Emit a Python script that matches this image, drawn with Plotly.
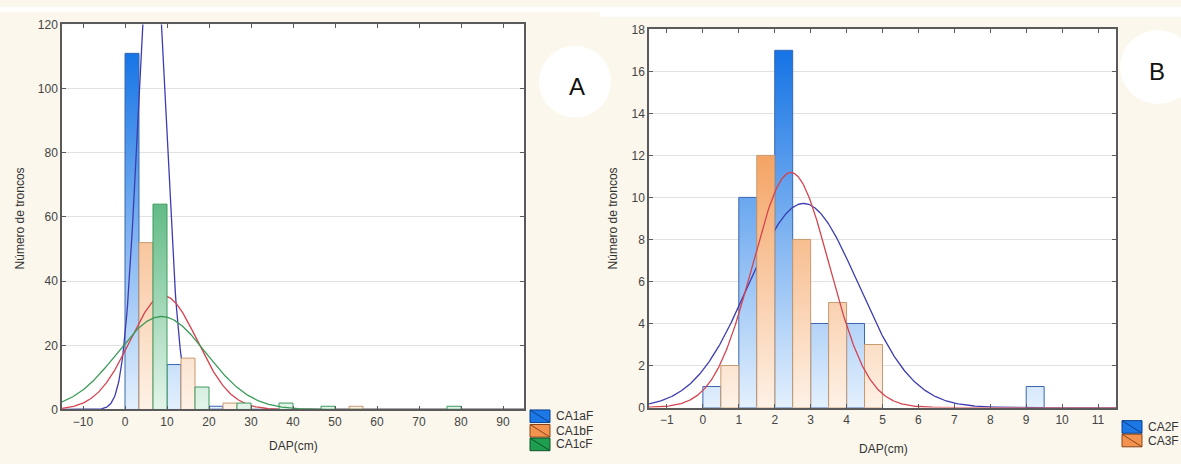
import numpy as np
import plotly.graph_objects as go

W, H = 1181, 464

# ---------------- data ----------------
A_series = ["CA1aF", "CA1bF", "CA1cF"]
A_bin_start = [0, 10, 20, 30, 40, 50, 60, 70, 80]
A_bin_width = 10
CA1aF = [111, 14, 1, 0, 0, 0, 0, 0, 0]
CA1bF = [52, 16, 2, 0, 0, 1, 0, 0, 0]
CA1cF = [64, 7, 2, 2, 1, 0, 0, 1, 0]
A_fit_mean = [6.4, 9.2, 8.7]
A_fit_sd = [3.3, 8.0, 10.6]
A_xticks = [-10, 0, 10, 20, 30, 40, 50, 60, 70, 80, 90]
A_yticks = [0, 20, 40, 60, 80, 100, 120]

B_series = ["CA2F", "CA3F"]
B_bin_start = [0, 1, 2, 3, 4, 5, 6, 7, 8, 9]
B_bin_width = 1
CA2F = [1, 10, 17, 4, 4, 0, 0, 0, 0, 1]
CA3F = [2, 12, 8, 5, 3, 0, 0, 0, 0, 0]
B_fit_mean = [2.8, 2.45]
B_fit_sd = [1.52, 1.07]
B_xticks = [-1, 0, 1, 2, 3, 4, 5, 6, 7, 8, 9, 10, 11]
B_yticks = [0, 2, 4, 6, 8, 10, 12, 14, 16, 18]

# ---------------- styles ----------------
STY = {
    "blue": dict(light="#eaf4fe", dark="#0f70e4", edge="#3a66b0", curve="#3c3cb0", sw="#1c78e6", swl="#0b3f8a"),
    "orange": dict(light="#fef5ec", dark="#f2944a", edge="#c69a70", curve="#d4434f", sw="#f29350", swl="#8a4418"),
    "green": dict(light="#ebf8f0", dark="#1f9d52", edge="#3f9a60", curve="#3a9a58", sw="#1f9e50", swl="#0c5228"),
}
A_styles = ["blue", "orange", "green"]
A_gstop = [116, 112, 98]
B_styles = ["blue", "orange"]
B_gstop = [17.5, 14.5]

FONT = "Liberation Sans, Arial, sans-serif"
CREAM = "#fbf7ec"

fig = go.Figure()


def bar_path(starts, width, nser, k, counts):
    xs, ys = [], []
    for s, c in zip(starts, counts):
        if c <= 0:
            continue
        x0 = s + k * width / nser
        x1 = x0 + width / nser
        xs += [x0, x0, x1, x1, x0, None]
        ys += [0, c, c, 0, 0, None]
    return xs, ys


def add_panel(series_counts, starts, width, means, sds, styles, gstops, xr, xa, ya):
    n = len(series_counts)
    for k, counts in enumerate(series_counts):
        st = STY[styles[k]]
        xs, ys = bar_path(starts, width, n, k, counts)
        fig.add_trace(go.Scatter(
            x=xs, y=ys, mode="lines", fill="toself",
            fillgradient=dict(type="vertical", colorscale=[[0, st["light"]], [1, st["dark"]]],
                              start=0, stop=gstops[k]),
            line=dict(color=st["edge"], width=1),
            xaxis=xa, yaxis=ya, showlegend=False, hoverinfo="skip"))
        N = sum(counts)
        cx = np.linspace(xr[0], xr[1], 600)
        amp = N * width / (sds[k] * np.sqrt(2 * np.pi))
        cy = amp * np.exp(-((cx - means[k]) ** 2) / (2 * sds[k] ** 2))
        fig.add_trace(go.Scatter(
            x=cx, y=cy, mode="lines", line=dict(color=st["curve"], width=1.3),
            xaxis=xa, yaxis=ya, showlegend=False, hoverinfo="skip"))


A_xr = [-15, 95]
B_xr = [-1.5, 11.5]
add_panel([CA1aF, CA1bF, CA1cF], A_bin_start, A_bin_width, A_fit_mean, A_fit_sd,
          A_styles, A_gstop, A_xr, "x", "y")
add_panel([CA2F, CA3F], B_bin_start, B_bin_width, B_fit_mean, B_fit_sd,
          B_styles, B_gstop, B_xr, "x2", "y2")


def px(x):
    return x / W


def py(y):
    return 1 - y / H


axis_common = dict(showline=True, linecolor="#5a5a5a", linewidth=1.5, mirror="ticks",
                   ticks="inside", ticklen=4, tickcolor="#5a5a5a", zeroline=False,
                   tickfont=dict(family=FONT, size=12, color="#444444"))

fig.update_layout(
    width=W, height=H, autosize=False,
    margin=dict(l=0, r=0, t=0, b=0),
    paper_bgcolor=CREAM, plot_bgcolor="white",
    xaxis=dict(domain=[px(62), px(524)], range=A_xr, tickvals=A_xticks, showgrid=False,
               anchor="y", **axis_common),
    yaxis=dict(domain=[py(415), py(18)], range=[0, 120], tickvals=A_yticks, showgrid=True,
               gridcolor="#e2e2e2", anchor="x", **axis_common),
    xaxis2=dict(domain=[px(649), px(1116)], range=B_xr, tickvals=B_xticks, showgrid=False,
                anchor="y2", **axis_common),
    yaxis2=dict(domain=[py(413), py(23)], range=[0, 18], tickvals=B_yticks, showgrid=True,
                gridcolor="#e2e2e2", anchor="x2", **axis_common),
)

shapes = [
    dict(type="rect", xref="paper", yref="paper", x0=0, x1=px(600), y0=py(5), y1=1,
         fillcolor="white", line=dict(width=0), layer="below"),
    dict(type="rect", xref="paper", yref="paper", x0=px(600), x1=1, y0=py(10), y1=1,
         fillcolor="white", line=dict(width=0), layer="below"),
    dict(type="circle", xref="paper", yref="paper", x0=px(539), x1=px(611), y0=py(114), y1=py(40),
         fillcolor="white", line=dict(width=0), layer="below"),
    dict(type="circle", xref="paper", yref="paper", x0=px(1120), x1=px(1196), y0=py(100), y1=py(24),
         fillcolor="white", line=dict(width=0), layer="below"),
]


def ann(text, x, y, size=12, color="#333333", angle=0, xanchor="center"):
    return dict(text=text, x=px(x), y=py(y), xref="paper", yref="paper", showarrow=False,
                xanchor=xanchor, yanchor="middle", textangle=angle,
                font=dict(family=FONT, size=size, color=color))


annotations = [
    ann("A", 577, 82, size=24, color="#111111"),
    ann("B", 1157, 67, size=24, color="#111111"),
    ann("Número de troncos", 20, 218, angle=-90),
    ann("Número de troncos", 613, 218, angle=-90),
    ann("DAP(cm)", 293, 453),
    ann("DAP(cm)", 883, 456),
]


def add_legend(names, styles, x0, ycs):
    for name, s, yc in zip(names, styles, ycs):
        st = STY[s]
        shapes.append(dict(type="rect", xref="paper", yref="paper", x0=px(x0), x1=px(x0 + 20),
                           y0=py(yc + 6.5), y1=py(yc - 6.5), fillcolor=st["sw"],
                           line=dict(color=st["swl"], width=1)))
        shapes.append(dict(type="line", xref="paper", yref="paper", x0=px(x0), x1=px(x0 + 20),
                           y0=py(yc - 6.5), y1=py(yc + 6.5), line=dict(color=st["swl"], width=1)))
        annotations.append(ann(name, x0 + 24, yc, xanchor="left"))


add_legend(A_series, A_styles, 530, [422, 437, 451])
add_legend(B_series, B_styles, 1122, [433, 447])

fig.update_layout(shapes=shapes, annotations=annotations)

PAGE_FIT_JS = (
    "var d=document.documentElement,b=document.body;"
    "d.style.margin='0';d.style.padding='0';d.style.height='464px';d.style.overflow='hidden';"
    "b.style.margin='0';b.style.padding='0';b.style.height='464px';b.style.overflow='hidden';"
    "b.style.lineHeight='0';"
)
fig.write_html("out.html", config={"displayModeBar": False}, post_script=PAGE_FIT_JS)
